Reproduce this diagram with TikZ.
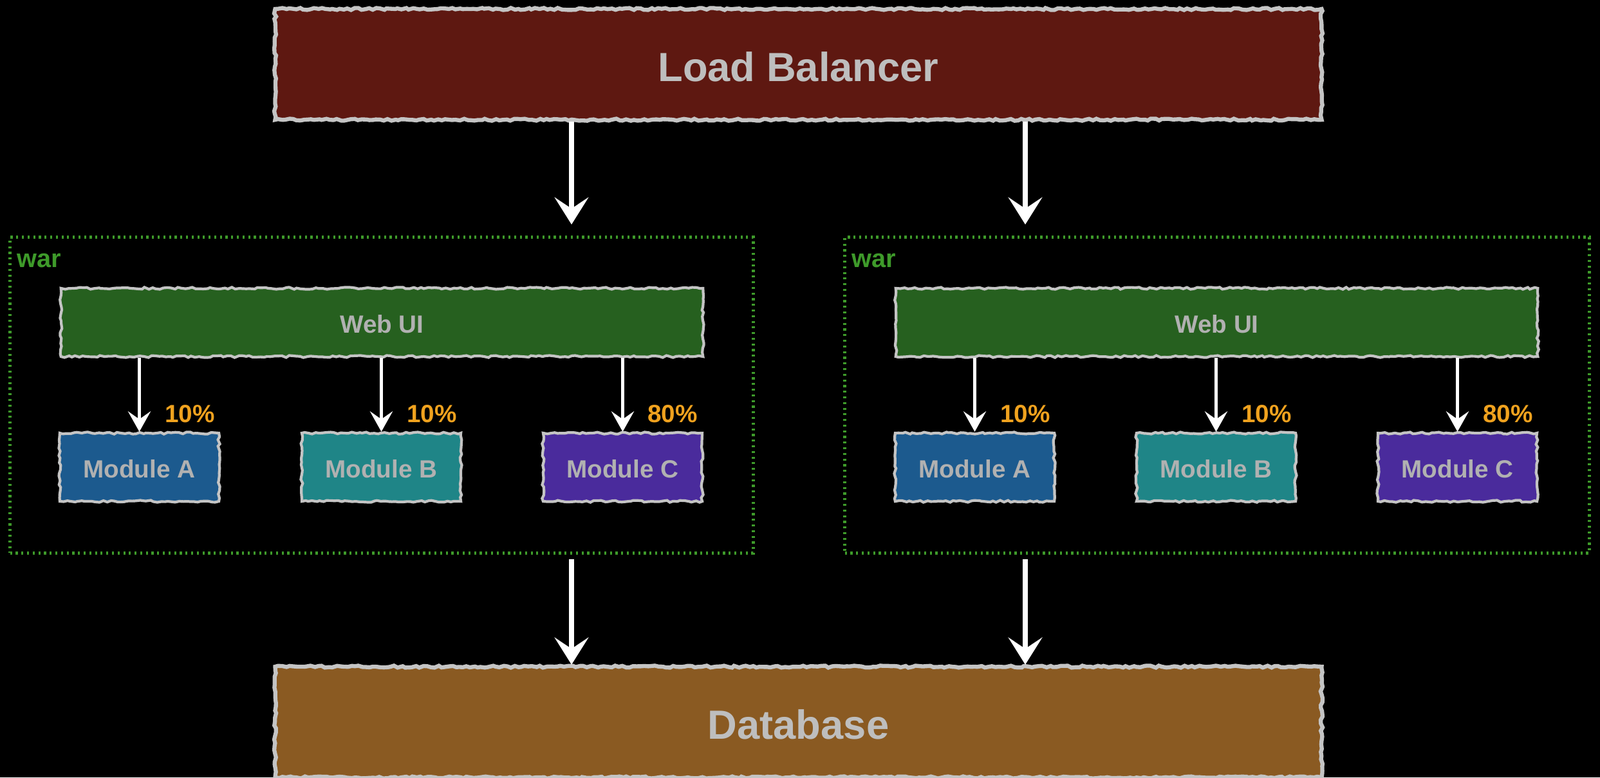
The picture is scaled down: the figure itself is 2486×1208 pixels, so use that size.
\documentclass[tikz,border=0pt]{standalone}
\usepackage{fontspec}
\setmainfont{Liberation Sans}
\usetikzlibrary{arrows.meta,decorations.pathmorphing}
\definecolor{lbred}{HTML}{5E1811}
\definecolor{dbbrown}{HTML}{8A5A22}
\definecolor{webgreen}{HTML}{26601F}
\definecolor{modA}{HTML}{1C5A8E}
\definecolor{modB}{HTML}{1F8587}
\definecolor{modC}{HTML}{4A2B9C}
\definecolor{edge}{HTML}{C4C4C4}
\definecolor{txt}{HTML}{BEBEBE}
\definecolor{wargreen}{HTML}{3E9A2A}
\definecolor{pct}{HTML}{F0A21E}
\tikzset{
  rough/.style={decorate, decoration={random steps, segment length=1.6pt, amplitude=0.45pt}},
  bigbox/.style={rough, draw=edge, line width=1.8pt, minimum width=16.25cm, minimum height=1.72cm,
     text=txt, font=\fontsize{18}{20}\selectfont\bfseries, inner sep=0pt, text height=15pt, text depth=0pt},
  webbox/.style={rough, draw=edge, line width=1.2pt, fill=webgreen, minimum width=9.97cm, minimum height=1.06cm,
     text=txt!120!white, font=\fontsize{11}{13}\selectfont\bfseries, inner sep=0pt, text height=9.5pt, text depth=0pt},
  modbox/.style={rough, draw=edge, line width=1.2pt, minimum width=2.47cm, minimum height=1.06cm,
     text=txt!120!white, font=\fontsize{11}{13}\selectfont\bfseries, inner sep=0pt, text height=9.5pt, text depth=0pt},
  warbox/.style={draw=wargreen, line width=1.4pt, dash pattern={on 0.9pt off 1.6pt}},
  warlbl/.style={text=wargreen, font=\fontsize{11.3}{13}\selectfont\bfseries, anchor=west, inner sep=0pt},
  pctlbl/.style={text=pct, font=\fontsize{11}{13}\selectfont\bfseries, inner sep=0pt},
  bigarrow/.style={draw=white, line width=2.3pt, -{Stealth[length=12pt, width=15pt, inset=5pt]}},
  smallarrow/.style={draw=white, line width=1.3pt, -{Stealth[length=9pt, width=10pt, inset=3.5pt]}},
}
\begin{document}
\begin{tikzpicture}[x=0.01cm, y=-0.01cm]
\fill[black] (0,0) rectangle (2486,1208);
\useasboundingbox (0,0) rectangle (2486,1208);

% top and bottom boxes
\node[bigbox, fill=lbred] (lb) at (1240.5,100) {Load Balancer};
\node[bigbox, fill=dbbrown] (db) at (1240.5,1122) {Database};

% war containers
\node[warbox, minimum width=11.54cm, minimum height=4.9cm, inner sep=0pt] (warL) at (593,614) {};
\node[warbox, minimum width=11.56cm, minimum height=4.9cm, inner sep=0pt] (warR) at (1891,614) {};
\node[warlbl] (wlL) at (26,405) {war};
\node[warlbl] (wlR) at (1323,405) {war};

% Web UI
\node[webbox] (webL) at (593.5,501) {Web UI};
\node[webbox] (webR) at (1890.5,501) {Web UI};

% Modules
\node[modbox, fill=modA] (aL) at (216.5,726) {Module A};
\node[modbox, fill=modB] (bL) at (592.5,726) {Module B};
\node[modbox, fill=modC] (cL) at (967.5,726) {Module C};
\node[modbox, fill=modA] (aR) at (1514.5,726) {Module A};
\node[modbox, fill=modB] (bR) at (1889.5,726) {Module B};
\node[modbox, fill=modC] (cR) at (2264.5,726) {Module C};

% percentages
\node[pctlbl] (pAL) at (295,643) {10\%};
\node[pctlbl] (pBL) at (671,643) {10\%};
\node[pctlbl] (pCL) at (1045,643) {80\%};
\node[pctlbl] (pAR) at (1593,643) {10\%};
\node[pctlbl] (pBR) at (1968,643) {10\%};
\node[pctlbl] (pCR) at (2343,643) {80\%};

% big arrows
\coordinate (xl) at (888,0);
\coordinate (xr) at (1593,0);
\draw[bigarrow] (lb.south -| xl) -- ([yshift=5pt]warL.north -| xl);
\draw[bigarrow] (lb.south -| xr) -- ([yshift=5pt]warR.north -| xr);
\draw[bigarrow] ([yshift=-2pt]warL.south -| xl) -- (db.north -| xl);
\draw[bigarrow] ([yshift=-2pt]warR.south -| xr) -- (db.north -| xr);

% small arrows
\foreach \m in {aL,bL,cL}{
  \draw[smallarrow] (webL.south -| \m.north) -- (\m.north);
}
\foreach \m in {aR,bR,cR}{
  \draw[smallarrow] (webR.south -| \m.north) -- (\m.north);
}
\end{tikzpicture}
\end{document}
